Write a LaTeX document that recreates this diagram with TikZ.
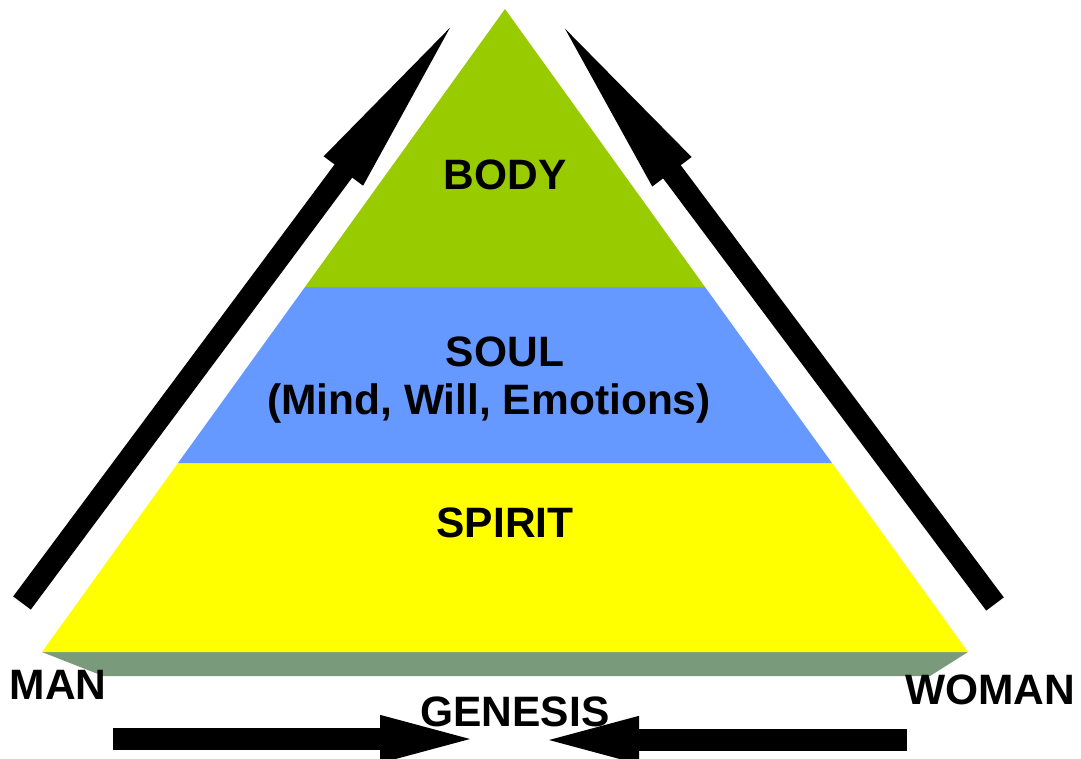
\documentclass[tikz,border=0pt]{standalone}
\usepackage{fontspec}
\setmainfont{Liberation Sans}
\usepackage{tikz}
\usetikzlibrary{arrows.meta}
\definecolor{bodycol}{HTML}{99CC00}
\definecolor{soulcol}{HTML}{6699FF}
\definecolor{spiritcol}{HTML}{FFFF00}
\definecolor{basecol}{HTML}{7A9A7C}

\begin{document}
\begin{tikzpicture}[x=1pt,y=-1pt,
  lbl/.style={font=\fontsize{42.5}{48}\selectfont\bfseries,inner sep=0pt},
  bigarrow/.style={line width=22pt,shorten >=-25pt,-{Triangle[length=207pt,width=42pt]}},
  flatarrow/.style={line width=22pt,shorten >=-18pt,-{Triangle[length=108pt,width=40pt]}}]
  \useasboundingbox (0,0) rectangle (1081,758);
  % pyramid
  \fill[basecol] (42,652) -- (968,652) -- (930,676) -- (103,676) -- cycle;
  \fill[spiritcol] (178,463) -- (832,463) -- (968,652) -- (42,652) -- cycle;
  \fill[soulcol] (305,287) -- (705,287) -- (832,463) -- (178,463) -- cycle;
  \fill[bodycol] (505,9) -- (705,287) -- (305,287) -- cycle;
  \node[lbl] (body) at (505,175) {BODY};
  \node[lbl] (soul) at (505,352) {SOUL};
  \node[lbl] (mind) at (489,404) {(Mind, Will, Emotions)};
  \node[lbl] (spirit) at (505,523) {SPIRIT};
  \node[lbl] (man) at (58,685) {MAN};
  \node[lbl] (woman) at (990,690) {WOMAN};
  \node[lbl] (genesis) at (515,712) {GENESIS};
  % arrows
  \coordinate (mantail) at (22,603);
  \coordinate (mantip) at (452,25);
  \coordinate (womantail) at (995,604);
  \coordinate (womantip) at (563,26);
  \coordinate (lefttail) at (113,739);
  \coordinate (lefttip) at (470,739);
  \coordinate (righttail) at (907,740);
  \coordinate (righttip) at (549,740);
  \draw[bigarrow] (mantail) -- (mantip);
  \draw[bigarrow] (womantail) -- (womantip);
  \draw[flatarrow] (lefttail) -- (lefttip);
  \draw[flatarrow] (righttail) -- (righttip);
\end{tikzpicture}
\end{document}
